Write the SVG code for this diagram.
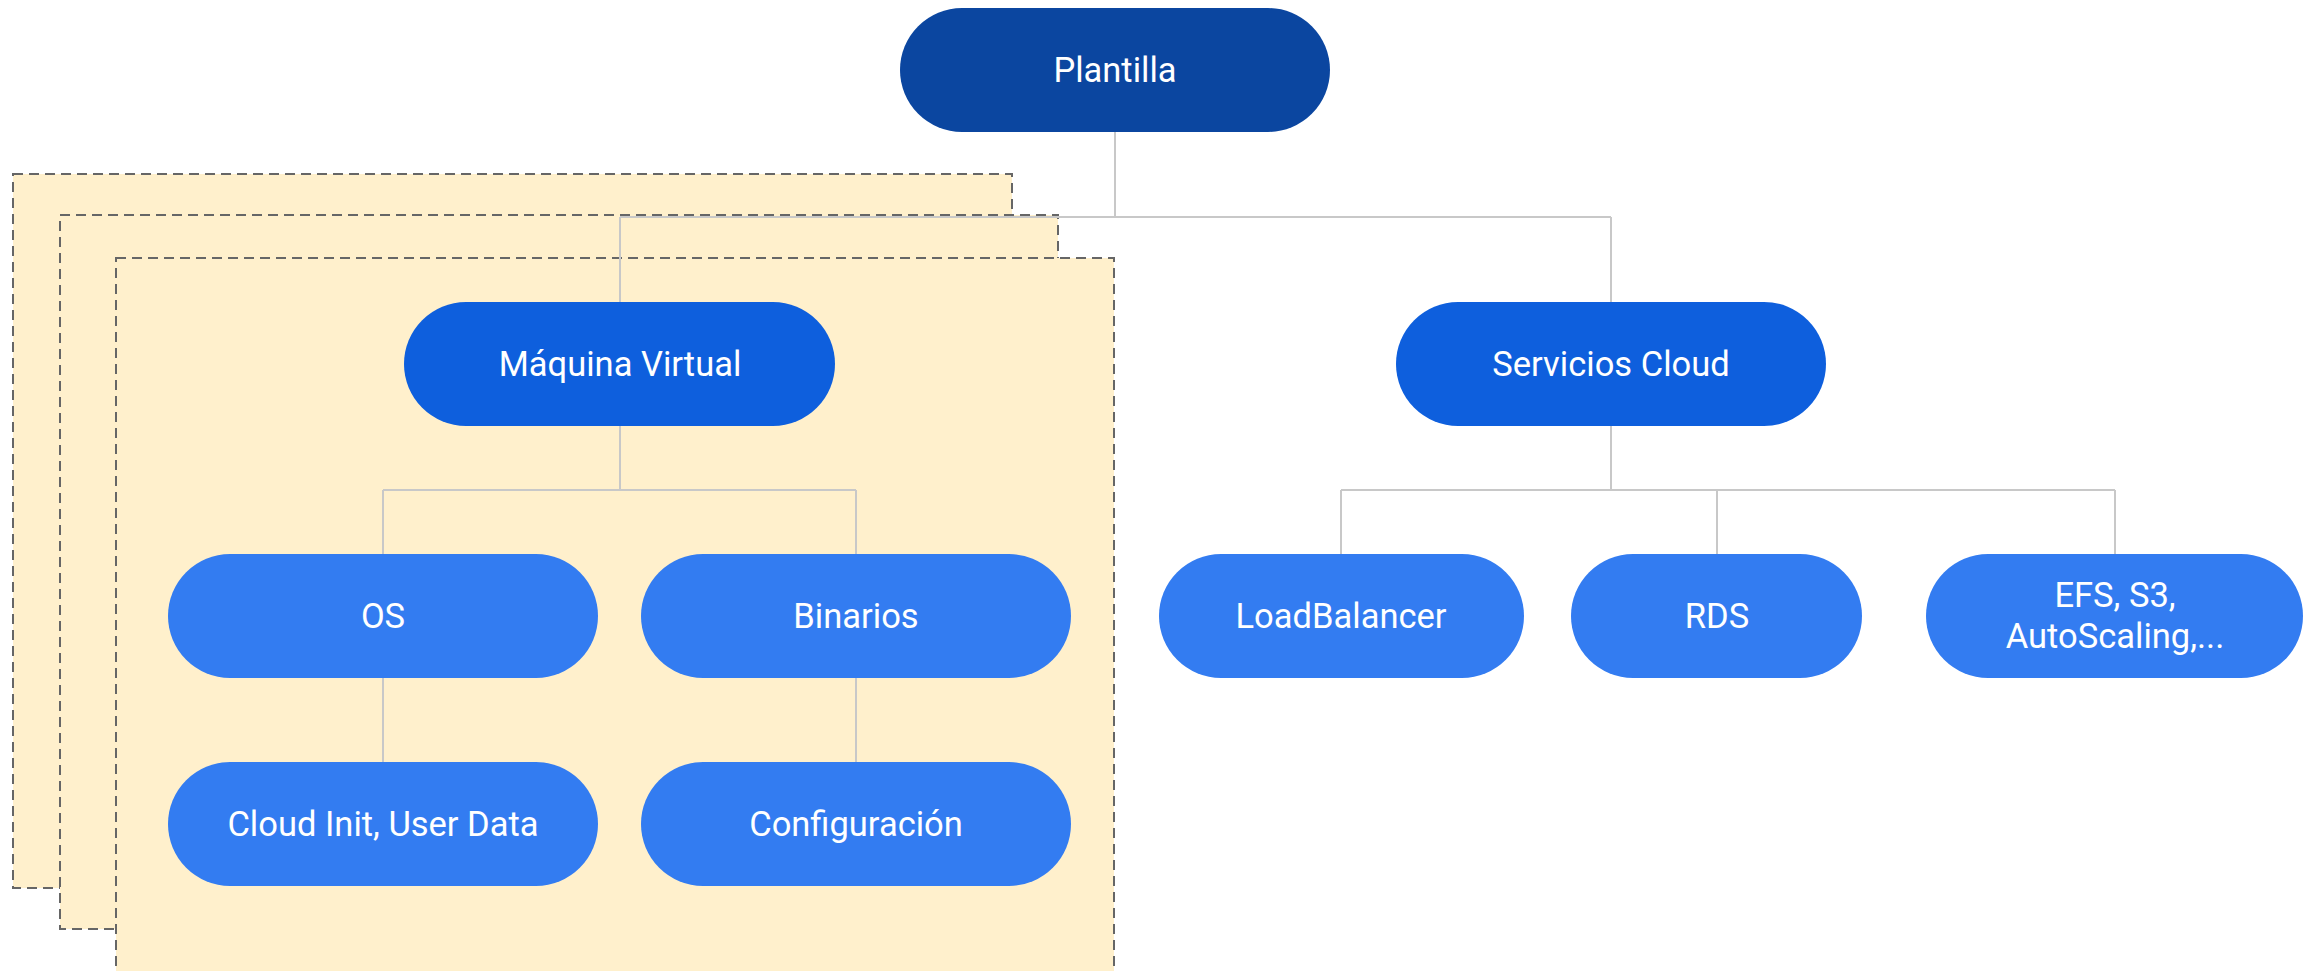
<svg xmlns="http://www.w3.org/2000/svg" width="2321" height="971" viewBox="0 0 2321 971">
<style>
.frame{fill:#fff0cc;stroke:#666;stroke-width:2;stroke-dasharray:10 6}
.conn{fill:none;stroke:#c8c8c8;stroke-width:2}
.root{fill:#0b46a0}
.mid{fill:#0e5fdd}
.leaf{fill:#337cf1}
text{font-family:Roboto,"Liberation Sans",sans-serif;font-size:34.5px;fill:#fff;text-anchor:middle}
</style>
<rect width="2321" height="971" fill="#fff"/>
<g id="frames">
<rect class="frame" x="13" y="174" width="999" height="714"/>
<rect class="frame" x="60" y="215" width="998" height="714"/>
<rect class="frame" x="116" y="258" width="998" height="740"/>
</g>
<g id="connectors">
<path class="conn" d="M1115 132V217M620 217H1611M620 217V302M1611 217V302"/>
<path class="conn" d="M620 426V490M383 490H856M383 490V554M856 490V554"/>
<path class="conn" d="M383 678V762M856 678V762"/>
<path class="conn" d="M1611 426V490M1341 490H2115M1341 490V554M1717 490V554M2115 490V554"/>
</g>
<g id="plantilla"><rect class="root" x="900" y="8" width="430" height="124" rx="62"/><text x="1115" y="82">Plantilla</text></g>
<g id="maquina"><rect class="mid" x="404" y="302" width="431" height="124" rx="62"/><text x="620" y="376">Máquina Virtual</text></g>
<g id="servicios"><rect class="mid" x="1396" y="302" width="430" height="124" rx="62"/><text x="1611" y="376">Servicios Cloud</text></g>
<g id="os"><rect class="leaf" x="168" y="554" width="430" height="124" rx="62"/><text x="383" y="628">OS</text></g>
<g id="binarios"><rect class="leaf" x="641" y="554" width="430" height="124" rx="62"/><text x="856" y="628">Binarios</text></g>
<g id="cloudinit"><rect class="leaf" x="168" y="762" width="430" height="124" rx="62"/><text x="383" y="836">Cloud Init, User Data</text></g>
<g id="configuracion"><rect class="leaf" x="641" y="762" width="430" height="124" rx="62"/><text x="856" y="836">Configuración</text></g>
<g id="loadbalancer"><rect class="leaf" x="1159" y="554" width="365" height="124" rx="62"/><text x="1341" y="628">LoadBalancer</text></g>
<g id="rds"><rect class="leaf" x="1571" y="554" width="291" height="124" rx="62"/><text x="1717" y="628">RDS</text></g>
<g id="efs"><rect class="leaf" x="1926" y="554" width="377" height="124" rx="62"/><text x="2115" y="607">EFS, S3,</text><text x="2115" y="648">AutoScaling,...</text></g>
</svg>
